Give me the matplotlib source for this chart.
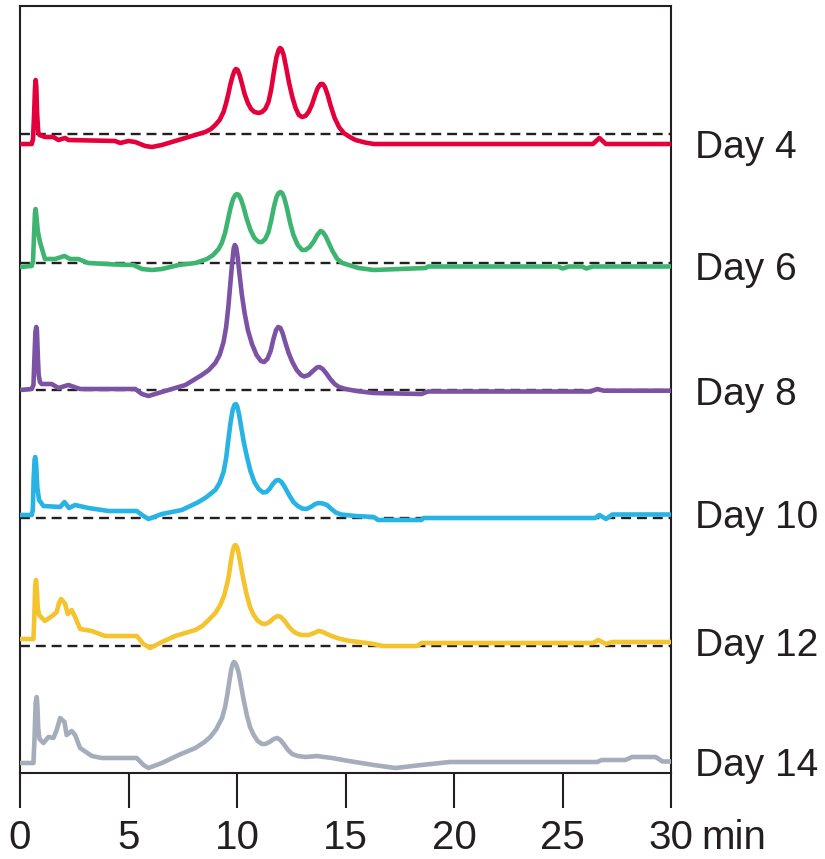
import numpy as np
import matplotlib
matplotlib.use("Agg")
import matplotlib.pyplot as plt

plt.rcParams['font.family'] = ['Liberation Sans', 'DejaVu Sans']

# HPLC traces (retention time in min, detector signal in a.u. above each trace's baseline)
day_labels = ["Day 4", "Day 6", "Day 8", "Day 10", "Day 12", "Day 14"]
offsets = [639, 510, 383, 255, 127, 0]
show_baseline = [True, True, True, True, True, False]

t_day4 = [0, 0.54, 0.6, 0.65, 0.69, 0.72, 0.75, 0.79, 0.84, 0.9, 1.15, 1.54, 1.77, 2.08, 2.23,
          4.38, 4.62, 5.0, 5.31, 5.77, 6.08, 6.54, 7.15, 7.92, 8.54, 8.8, 9.0, 9.2, 9.38, 9.5,
          9.6, 9.7, 9.8, 9.88, 9.95, 10.03, 10.12, 10.22, 10.35, 10.5, 10.65, 10.8, 11.0, 11.15,
          11.3, 11.45, 11.58, 11.7, 11.82, 11.92, 11.98, 12.05, 12.15, 12.27, 12.4, 12.55, 12.7,
          12.85, 13.0, 13.15, 13.3, 13.45, 13.6, 13.72, 13.85, 13.95, 14.05, 14.18, 14.32, 14.5,
          14.7, 14.92, 15.2, 15.46, 15.9, 16.3, 17.5, 26.4, 26.7, 27.0, 30]
s_day4 = [-10, -10, -5, 20, 45, 54, 48, 20, 2, -1, -3, -3, -6, -4, -6,
          -7, -9, -7, -8, -12, -13, -11, -7, -2, 2, 5, 9, 14, 22, 31,
          40, 50, 58, 63, 65, 64, 59, 51, 40, 31, 25, 22, 21, 22,
          25, 32, 45, 62, 77, 84, 86, 85, 79, 66, 51, 37, 26,
          19, 17, 18, 22, 29, 39, 46, 50, 50, 47, 39, 28, 16,
          7, 1, -3, -6, -8.5, -10, -10, -10, -4, -10, -10]

t_day6 = [0, 0.54, 0.6, 0.65, 0.69, 0.72, 0.76, 0.82, 0.92, 1.15, 1.62, 2.05, 2.31, 2.69, 3.15,
          4.38, 5.23, 5.62, 6.08, 6.54, 7.31, 8.08, 8.62, 8.9, 9.15, 9.3, 9.45, 9.58, 9.7, 9.82,
          9.92, 10.0, 10.08, 10.18, 10.3, 10.45, 10.62, 10.8, 11.0, 11.15, 11.3, 11.45, 11.58,
          11.7, 11.82, 11.92, 12.0, 12.08, 12.18, 12.3, 12.45, 12.6, 12.8, 13.0, 13.15, 13.35,
          13.55, 13.7, 13.85, 13.95, 14.08, 14.23, 14.4, 14.62, 14.85, 15.15, 15.6, 16.3, 18.7,
          18.8, 24.8, 25.0, 25.3, 25.9, 26.1, 26.4, 30]
s_day6 = [-4, -3, 2, 30, 50, 54, 46, 32, 21, 4, 4, 7, 4, 4, 0,
          -1.5, -2, -6, -7, -6, -2, 0, 4, 8, 14, 20, 30, 43, 55, 64,
          68, 69, 68, 64, 56, 44, 33, 25, 21, 21, 24, 31, 43,
          56, 66, 70, 71, 70, 65, 55, 40, 28, 18, 13, 13, 16,
          22, 28, 32, 31, 27, 20, 12, 4, 0, -2, -5, -7, -5,
          -3.5, -3.5, -5.5, -3.5, -3.5, -5.5, -3.5, -3.5]

t_day8 = [0, 0.54, 0.62, 0.67, 0.71, 0.75, 0.78, 0.82, 0.86, 0.92, 1.0, 1.46, 1.77, 2.23, 2.77,
          5.31, 5.62, 5.92, 6.38, 7.0, 7.62, 8.38, 8.7, 9.0, 9.2, 9.38, 9.5, 9.6, 9.7, 9.78,
          9.85, 9.9, 9.96, 10.03, 10.12, 10.22, 10.35, 10.5, 10.69, 10.9, 11.1, 11.25, 11.4,
          11.55, 11.68, 11.8, 11.9, 12.0, 12.1, 12.22, 12.38, 12.55, 12.75, 12.95, 13.1, 13.3,
          13.5, 13.68, 13.8, 13.95, 14.1, 14.3, 14.5, 14.7, 15.0, 15.5, 16.3, 18.5, 18.8, 26.3,
          26.6, 26.9, 30]
s_day8 = [0, 1, 5, 35, 58, 63, 60, 35, 15, 8, 6, 6, 2, 5, 1,
          1, -4, -6, -3, 1, 5, 15, 20, 27, 35, 48, 63, 83, 108, 128,
          142, 145, 143, 133, 115, 96, 77, 60, 46, 35, 29, 28, 31,
          39, 51, 60, 63, 62, 57, 48, 37, 28, 20, 15, 13.5, 15,
          19, 22.5, 23, 21, 17, 11, 6, 3, 1, -1, -3, -4, -1.5, -1.5,
          1, -0.7, -0.7]

t_day10 = [0, 0.54, 0.59, 0.63, 0.67, 0.7, 0.74, 0.8, 0.88, 1.08, 1.85, 2.05, 2.26, 2.54, 3.15,
           4.08, 5.38, 5.69, 5.92, 6.54, 7.46, 8.23, 8.6, 9.0, 9.2, 9.38, 9.5, 9.6, 9.7, 9.8,
           9.88, 9.95, 10.02, 10.1, 10.2, 10.32, 10.46, 10.62, 10.8, 11.0, 11.2, 11.35, 11.5,
           11.65, 11.8, 11.92, 12.05, 12.2, 12.4, 12.6, 12.8, 13.0, 13.2, 13.4, 13.6, 13.77,
           13.95, 14.15, 14.35, 14.55, 14.8, 15.46, 16.3, 16.5, 18.5, 18.6, 26.5, 26.7, 27.0,
           27.3, 30]
s_day10 = [3, 3, 8, 40, 58, 61, 55, 30, 18, 12, 11, 16, 10, 13, 10,
           7, 7, 2, -1, 4, 8, 16, 21, 28, 35, 46, 60, 78, 95, 108,
           113, 114, 111, 103, 90, 75, 61, 47, 36, 29, 25.5, 26, 29,
           34, 37.5, 38, 36, 31, 23, 16, 12, 9.5, 9, 11, 14, 15,
           14.5, 13, 9, 5.5, 3.5, 2, 1, -2, -2, 0, 0, 3, -1,
           3.5, 3.5]

t_day12 = [0, 0.62, 0.66, 0.7, 0.74, 0.78, 0.82, 0.88, 1.15, 1.54, 1.69, 1.8, 1.89, 1.98, 2.08,
           2.2, 2.38, 2.54, 2.77, 3.31, 3.92, 5.38, 5.69, 6.0, 6.54, 7.15, 8.08, 8.4, 8.69, 9.0,
           9.23, 9.4, 9.52, 9.62, 9.72, 9.8, 9.87, 9.93, 10.0, 10.08, 10.18, 10.3, 10.45, 10.6,
           10.77, 10.95, 11.15, 11.31, 11.5, 11.7, 11.88, 12.02, 12.2, 12.4, 12.6, 12.8, 13.0,
           13.31, 13.55, 13.75, 13.9, 14.1, 14.3, 14.55, 14.77, 15.2, 15.62, 16.3, 16.7, 18.3,
           18.5, 26.4, 26.65, 27.0, 27.3, 30]
s_day12 = [7, 7, 30, 60, 66, 55, 38, 31, 25, 31, 34, 43, 47, 45, 42,
           32, 36, 29, 17, 15, 10, 10, 2, -2, 4, 10, 16, 20, 26, 33,
           41, 50, 60, 70, 85, 95, 100, 101, 99, 92, 80, 66, 51, 39,
           31, 25.5, 22.5, 22, 24, 28, 30, 29, 25, 19, 14.5, 12, 11,
           11, 13, 15, 14.5, 12.5, 10.5, 8.5, 7, 5, 4, 2, 0, 0,
           3, 3, 6, 2, 4, 4]

t_day14 = [0, 0.62, 0.67, 0.72, 0.77, 0.8, 0.84, 0.9, 1.08, 1.31, 1.54, 1.69, 1.85, 2.05, 2.15,
           2.38, 2.54, 2.77, 3.31, 3.77, 5.38, 5.69, 5.92, 6.54, 7.31, 8.08, 8.5, 8.77, 9.05,
           9.31, 9.45, 9.55, 9.65, 9.73, 9.8, 9.86, 9.92, 10.0, 10.08, 10.18, 10.3, 10.45, 10.6,
           10.77, 10.95, 11.15, 11.31, 11.5, 11.7, 11.85, 12.0, 12.15, 12.35, 12.54, 12.8, 13.15,
           13.45, 13.69, 14.0, 14.38, 15.15, 16.3, 17.3, 18.5, 19.8, 26.6, 26.8, 27.9, 28.2, 29.3,
           29.6, 30]
s_day14 = [10, 10, 35, 70, 76, 68, 45, 34, 30, 36, 35, 43, 55, 51, 38,
           42, 38, 25, 17, 15, 15, 8, 5, 10, 18, 25, 31, 36, 44,
           55, 66, 78, 92, 103, 109, 111, 110, 106, 100, 88, 74, 58, 46,
           38, 32, 29, 29, 31, 34, 35, 33, 29, 23, 19, 17, 16,
           16.5, 17, 16, 15, 12, 8, 5, 8, 11, 11, 13, 13, 16, 16,
           11.5, 11.5]

times = [t_day4, t_day6, t_day8, t_day10, t_day12, t_day14]
signals = [s_day4, s_day6, s_day8, s_day10, s_day12, s_day14]
colors = ["#e3003b", "#3db570", "#7c52a4", "#27b3e3", "#f4c42f", "#a5acbb"]

x_ticks = [0, 5, 10, 15, 20, 25, 30]
ink = "#231f20"

fig = plt.figure(figsize=(8.25, 8.59), dpi=100)
ax = fig.add_axes([20 / 825, 1 - 773 / 859, 651 / 825, 767 / 859])

for t, s, off, base, col, lab in zip(times, signals, offsets, show_baseline, colors, day_labels):
    y = np.array(s) + off
    if base:
        ax.axhline(off, color=ink, lw=1.7, dashes=(4.2, 2.5), zorder=2)
    ax.plot(t, y, color=col, lw=3.3, solid_joinstyle='round', solid_capstyle='butt', zorder=3)
    ax.annotate(lab, xy=(30, y[-1]), xytext=(17, 0), textcoords='offset points',
                ha='left', va='center_baseline', fontsize=28, color=ink, annotation_clip=False)

ax.set_xlim(0, 30)
ax.set_ylim(0, 767)
ax.set_yticks([])
ax.set_xticks(x_ticks)
ax.set_xticklabels([str(v) for v in x_ticks])
ax.tick_params(axis='x', direction='out', length=25, width=1.5, pad=8,
               labelsize=29, colors=ink)
for sp in ax.spines.values():
    sp.set_color(ink)
    sp.set_linewidth(1.5)

# unit next to the last tick label
ax.annotate("min", xy=(30, 0), xycoords='data', xytext=(21.5, -33), textcoords='offset points',
            ha='left', va='top', fontsize=29, color=ink, annotation_clip=False)

fig.savefig("out.png", dpi=100)
